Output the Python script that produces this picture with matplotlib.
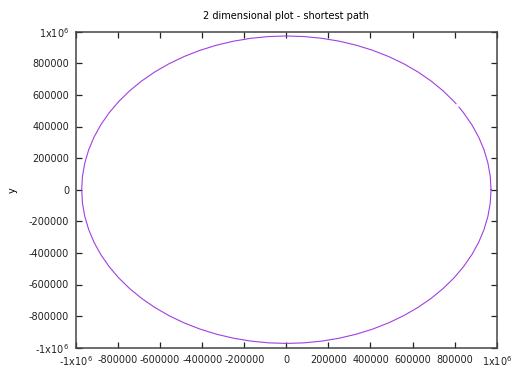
import numpy as np
import matplotlib
matplotlib.use('Agg')
import matplotlib.pyplot as plt

# ── Data: path points (NaN = small gap in the path) ──
path_x = [973000, 969300, 958220, 939850, 914320, 881840, 842640,
          820620, np.nan, 806650,
          797040, 745360, 688020, 625430, 558090, 486500, 411210, 332790,
          251830, 168960, 84800, 0,
          -84800, -168960, -251830, -332790, -411210, -486500, -558090,
          -625430, -688020, -745360, -797040, -842640, -881840, -914320,
          -939850, -958220, -969300, -973000,
          -969300, -958220, -939850, -914320, -881840, -842640, -797040,
          -745360, -688020, -625430, -558090, -486500, -411210, -332790,
          -251830, -168960, -84800, 0,
          84800, 168960, 251830, 332790, 411210, 486500, 558090, 625430,
          688020, 745360, 797040, 842640, 881840, 914320, 939850, 958220,
          969300, 973000]
path_y = [0, 84800, 168960, 251830, 332790, 411210, 486500,
          522790, np.nan, 544090,
          558090, 625430, 688020, 745360, 797040, 842640, 881840, 914320,
          939850, 958220, 969300, 973000,
          969300, 958220, 939850, 914320, 881840, 842640, 797040,
          745360, 688020, 625430, 558090, 486500, 411210, 332790,
          251830, 168960, 84800, 0,
          -84800, -168960, -251830, -332790, -411210, -486500, -558090,
          -625430, -688020, -745360, -797040, -842640, -881840, -914320,
          -939850, -958220, -969300, -973000,
          -969300, -958220, -939850, -914320, -881840, -842640, -797040,
          -745360, -688020, -625430, -558090, -486500, -411210, -332790,
          -251830, -168960, -84800, 0]

ticks = [-1000000, -800000, -600000, -400000, -200000, 0,
         200000, 400000, 600000, 800000, 1000000]
tick_labels = ['-1x10$^6$', '-800000', '-600000', '-400000',
               '-200000', '0', '200000', '400000', '600000', '800000',
               '1x10$^6$']

# ── Plot ──────────────────────────────────────────────────────────────────
fig = plt.figure(figsize=(5.12, 3.77), dpi=100)
ax = fig.add_axes([76 / 512, 1 - 347.7 / 377, 420.7 / 512, 316 / 377])

ax.plot(path_x, path_y, color='#a040e0', lw=0.8)

ax.set_xlim(-1000000, 1000000)
ax.set_ylim(-1000000, 1000000)
ax.set_xticks(ticks)
ax.set_xticklabels(tick_labels)
ax.set_yticks(ticks)
ax.set_yticklabels(tick_labels)
ax.tick_params(direction='in', length=4, width=0.9, top=True, right=True,
               labelsize=7, pad=5, colors='#222222')

for s in ax.spines.values():
    s.set_linewidth(1.1)
    s.set_color('#444444')

ax.set_title('2 dimensional plot - shortest path', fontsize=7, pad=9)
ax.set_xlabel('x', fontsize=7, labelpad=5)
ax.set_ylabel('y', fontsize=7, labelpad=8)

fig.savefig('out.png', dpi=100)
plt.close(fig)
